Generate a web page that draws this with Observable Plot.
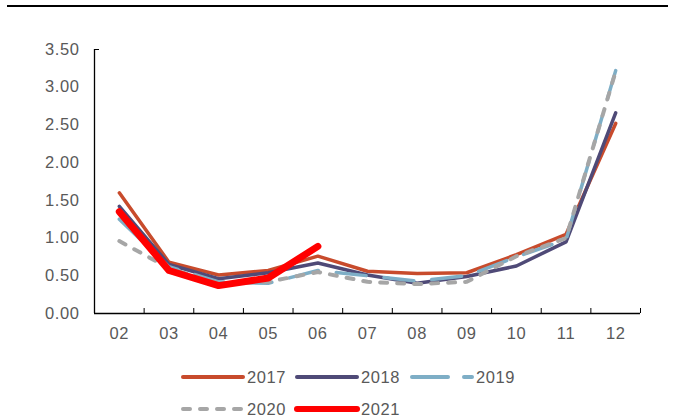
<!DOCTYPE html>
<html><head><meta charset="utf-8">
<script src="https://cdn.jsdelivr.net/npm/d3@7"></script>
<script src="https://cdn.jsdelivr.net/npm/@observablehq/plot@0.6"></script>
<style>
body{margin:0;background:#fff;font-family:"Liberation Sans",Arial,sans-serif;}
#wrap{position:relative;width:675px;height:419px;overflow:hidden;}
#rule{position:absolute;left:7px;top:5px;width:661px;height:2px;background:#000;}
#chart{position:absolute;left:0;top:0;}
#chart svg text{letter-spacing:0.6px;}
.leg{position:absolute;display:flex;align-items:center;font-size:16.5px;letter-spacing:0.6px;color:#595959;}
.leg svg{display:block;}
</style></head>
<body><div id="wrap"><div id="chart"></div><div id="rule"></div><div id="legend"></div></div>
<script>
const months = ["02","03","04","05","06","07","08","09","10","11","12"];
const y2017 = [1.60,0.68,0.51,0.57,0.76,0.56,0.53,0.54,0.78,1.05,2.52];
const y2018 = [1.42,0.65,0.46,0.54,0.67,0.51,0.40,0.49,0.63,0.95,2.66];
const y2019 = [1.25,0.62,0.42,0.40,0.57,0.50,0.43,0.50,0.75,0.98,3.22];
const y2020 = [0.96,0.60,0.40,0.42,0.55,0.42,0.39,0.42,0.76,1.00,3.21];
const y2021 = [1.35,0.57,0.37,0.47,0.89];
const yTicks = [0,0.5,1,1.5,2,2.5,3,3.5];
const seriesNames = ["2017","2018","2019","2020","2021"];

const styles = {
  "2017": {stroke:"#C84B2C", strokeWidth:3.5, dash:null},
  "2018": {stroke:"#4F4A77", strokeWidth:3.5, dash:null},
  "2019": {stroke:"#7EAEC6", strokeWidth:3.5, dash:"30,18"},
  "2020": {stroke:"#A6A6A6", strokeWidth:4, dash:"7,10"},
  "2021": {stroke:"#FF0000", strokeWidth:7, dash:null}
};
const all = [y2017,y2018,y2019,y2020,y2021];
const rows = [];
all.forEach((arr,si)=>arr.forEach((v,i)=>rows.push({series:seriesNames[si], i, value:v})));
const bounds = d3.range(months.length+1).map(k=>k-0.5);
const idx = d3.range(months.length);

const lineMarks = seriesNames.map(s => Plot.line(rows.filter(r=>r.series===s), {
  x:"i", y:"value", stroke: styles[s].stroke, strokeWidth: styles[s].strokeWidth,
  strokeDasharray: styles[s].dash, strokeLinecap:"round", strokeLinejoin:"round"
}));

const plot = Plot.plot({
  width:675, height:419,
  marginLeft:94, marginRight:35, marginTop:49, marginBottom:106,
  style:{fontFamily:'"Liberation Sans",Arial,sans-serif', fontSize:"16.5px", color:"#595959", background:"transparent"},
  x:{type:"linear", domain:[-0.5, months.length-0.5]},
  y:{domain:[0,3.5]},
  marks:[
    Plot.axisY({ticks:yTicks, tickSize:0, tickPadding:15, tickFormat:d=>d.toFixed(2), label:null, fill:"#595959", fontSize:16.5}),
    Plot.axisY({ticks:[3.5], tickSize:-5, tickFormat:()=>"", label:null, stroke:"#000"}),
    Plot.axisX({ticks:bounds, tickSize:-5, tickFormat:()=>"", label:null, stroke:"#000"}),
    Plot.axisX({ticks:idx, tickSize:0, tickPadding:14, tickFormat:i=>months[i], label:null, fill:"#595959", fontSize:16.5}),
    ...lineMarks,
    Plot.ruleY([0], {stroke:"#000", strokeWidth:1.3}),
    Plot.ruleX([-0.5], {stroke:"#000", strokeWidth:1.3})
  ]
});
document.getElementById("chart").appendChild(plot);

// legend
const legPos = {"2017":[183,377],"2018":[297,377],"2019":[412,377],"2020":[183,409],"2021":[297,409]};
const legend = document.getElementById("legend");
seriesNames.forEach(s=>{
  const st = styles[s];
  const [lx,ly] = legPos[s];
  const d = document.createElement("div");
  d.className="leg";
  d.style.left=(lx-3)+"px"; d.style.top=(ly-10)+"px"; d.style.height="20px";
  const w = 69;
  const dash = s==="2019" ? "36,16" : (s==="2020" ? "7,10" : "none");
  const sw = s==="2021" ? 6 : 4;
  d.innerHTML = `<svg width="${w}" height="20"><line x1="3" y1="10" x2="63" y2="10" stroke="${st.stroke}" stroke-width="${sw}" stroke-linecap="round" stroke-dasharray="${dash}"/></svg><span style="margin-left:-2px">${s}</span>`;
  legend.appendChild(d);
});
</script></body></html>
